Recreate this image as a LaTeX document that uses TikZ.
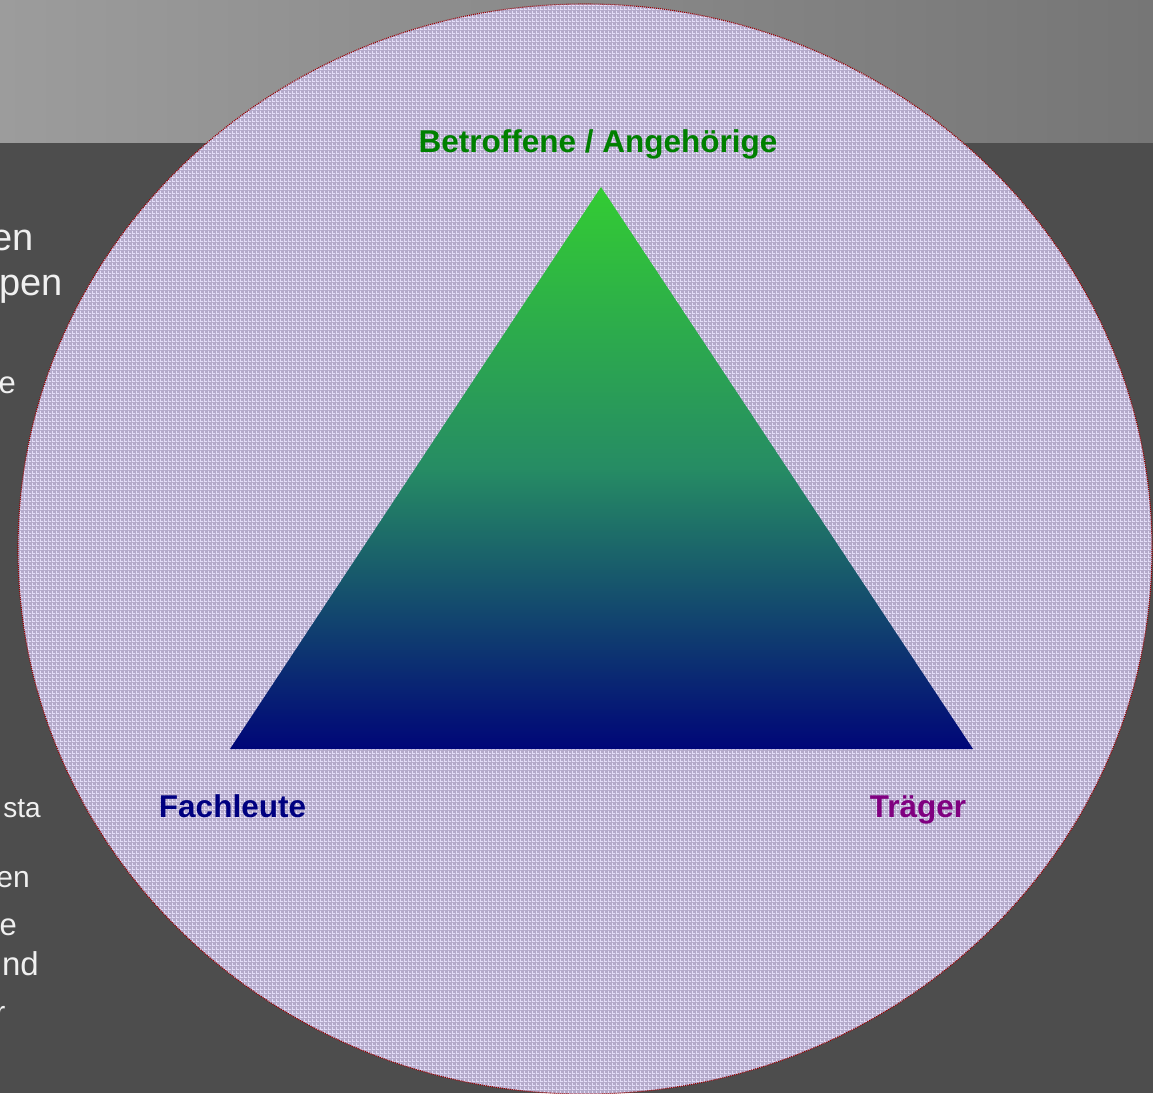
\documentclass[tikz,border=0pt]{standalone}
\usepackage{fontspec}
\setmainfont{Liberation Sans}
\usetikzlibrary{patterns}
\definecolor{bgdark}{RGB}{77,77,77}
\definecolor{bandleft}{RGB}{156,156,156}
\definecolor{bandright}{RGB}{118,118,118}
\definecolor{lavbase}{RGB}{180,170,202}
\definecolor{lavline}{RGB}{228,221,248}
\definecolor{rimred}{RGB}{150,0,0}
\definecolor{trigreen}{RGB}{51,204,51}
\definecolor{trimid}{RGB}{38,140,100}
\definecolor{trinavy}{RGB}{0,6,120}
\definecolor{lblgreen}{RGB}{0,128,0}
\definecolor{lblnavy}{RGB}{0,0,128}
\definecolor{lblpurple}{RGB}{128,0,128}
\definecolor{fragwhite}{RGB}{240,240,240}
\pgfdeclarepatternformonly{lavgrid}{\pgfpointorigin}{\pgfpoint{4pt}{4pt}}{\pgfpoint{4pt}{4pt}}{%
  \pgfpathrectangle{\pgfpointorigin}{\pgfpoint{4pt}{1.1pt}}%
  \pgfpathrectangle{\pgfpointorigin}{\pgfpoint{1.1pt}{4pt}}%
  \pgfusepath{fill}}
\tikzset{
  frag/.style={anchor=base east, inner sep=0pt, text=fragwhite},
  lbl/.style={anchor=base, inner sep=0pt, font=\bfseries\fontsize{31.5}{38}\selectfont},
}
\begin{document}
\begin{tikzpicture}[x=1pt,y=-1pt]
\useasboundingbox (0,0) rectangle (1153,1093);
% background
\fill[bgdark] (0,0) rectangle (1153,1093);
\shade[left color=bandleft, right color=bandright] (0,0) rectangle (1153,142);
% partially hidden text on the left
\node[frag, font=\fontsize{38}{45}\selectfont] (f1) at (34,250) {en};
\node[frag, font=\fontsize{38}{45}\selectfont] (f2) at (63,295) {pen};
\node[frag, font=\fontsize{31}{37}\selectfont] (f3) at (16,393) {e};
\node[frag, font=\fontsize{28}{34}\selectfont] (f4) at (41,817) {sta};
\node[frag, font=\fontsize{30}{36}\selectfont] (f5) at (30,887) {en};
\node[frag, font=\fontsize{31}{37}\selectfont] (f6) at (17,935) {e};
\node[frag, font=\fontsize{33}{40}\selectfont] (f7) at (39,975) {nd};
\node[frag, font=\fontsize{30}{36}\selectfont] (f8) at (5.5,1022) {r};
% big ellipse
\fill[lavbase] (585,549) ellipse [x radius=567, y radius=545];
\fill[pattern=lavgrid, pattern color=lavline] (585,549) ellipse [x radius=567, y radius=545];
\draw[rimred, line width=1.1pt, dash pattern=on 1pt off 1pt] (585,549) ellipse [x radius=567, y radius=545];
% triangle
\coordinate (apex) at (601,187);
\coordinate (bl) at (230,749);
\coordinate (br) at (973,749);
\shade[top color=trigreen, bottom color=trinavy, middle color=trimid] (apex) -- (bl) -- (br) -- cycle;
% labels
\node[lbl, text=lblgreen] (top) at (598,152) {Betroffene / Angehörige};
\node[lbl, text=lblnavy] (left) at (232.5,817) {Fachleute};
\node[lbl, text=lblpurple] (right) at (918,817) {Träger};
\end{tikzpicture}
\end{document}
